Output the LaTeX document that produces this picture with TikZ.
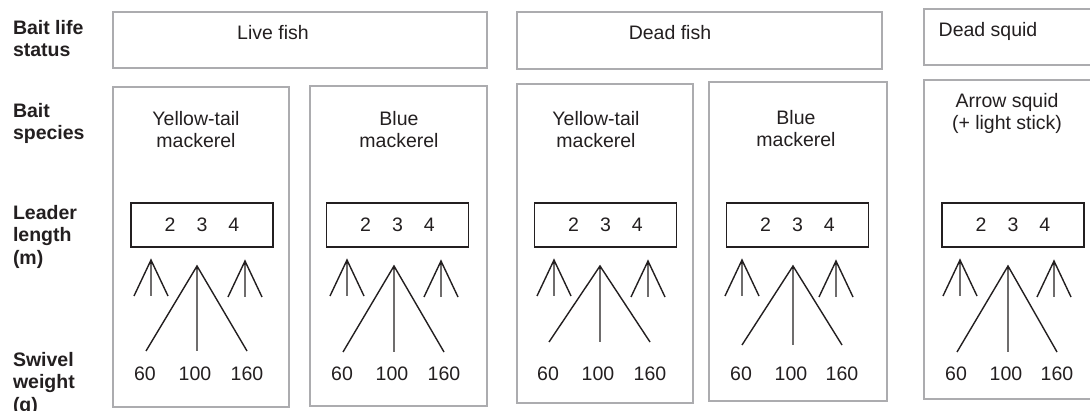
\documentclass[tikz,border=0pt]{standalone}
\usepackage{fontspec}
\setmainfont{Liberation Sans}
\definecolor{frame}{RGB}{172,172,175}
\definecolor{ink}{RGB}{35,31,32}
\tikzset{
  every node/.style={font=\fontsize{19.5}{22.5}\selectfont, text=ink, inner sep=0pt, outer sep=0pt},
  greybox/.style={draw=frame, line width=2.7pt, rectangle, anchor=north west},
  leadbox/.style={draw=ink, line width=1.5pt, rectangle, minimum width=142pt, minimum height=44pt},
  rowlabel/.style={font=\fontsize{19.5}{22.5}\selectfont\bfseries, align=left, anchor=north west},
  species/.style={align=center, anchor=north},
  fan/.style={draw=ink, line width=1.4pt},
}
\begin{document}
\begin{tikzpicture}[x=1pt, y=-1pt]
\useasboundingbox (0,0) rectangle (1090,411);
\clip (0,0) rectangle (1090,411);
\fill[white] (0,0) rectangle (1090,411);

% row labels
\node[rowlabel] (lblstatus)  at (13,20)  {Bait life\\status};
\node[rowlabel] (lblspecies) at (13,103) {Bait\\species};
\node[rowlabel] (lbllength)  at (13,205) {Leader\\length\\(m)};
\node[rowlabel] (lblweight)  at (13,352) {Swivel\\weight\\(g)};

% bait life status
\node[greybox, minimum width=374pt, minimum height=56pt] (live)  at (113,12) {};
\node[greybox, minimum width=365pt, minimum height=57pt] (dead)  at (517,12) {};
\node[greybox, minimum width=190pt, minimum height=56pt] (squid) at (924,9) {};
\node[anchor=base] (livetxt)  at (273,40) {Live fish};
\node[anchor=base] (deadtxt)  at (670,40) {Dead fish};
\node[anchor=base] (squidtxt) at (988,37) {Dead squid};

% bait species
\node[greybox, minimum width=176pt, minimum height=320pt] (sp1) at (113,87) {};
\node[greybox, minimum width=177pt, minimum height=320pt] (sp2) at (310,86) {};
\node[greybox, minimum width=176pt, minimum height=319pt] (sp3) at (517,84) {};
\node[greybox, minimum width=178pt, minimum height=319pt] (sp4) at (709,82) {};
\node[greybox, minimum width=190pt, minimum height=319pt] (sp5) at (924,80) {};
\node[species] (sp1txt) at (196,111)  {Yellow-tail\\mackerel};
\node[species] (sp2txt) at (399,111)  {Blue\\mackerel};
\node[species] (sp3txt) at (596,111)  {Yellow-tail\\mackerel};
\node[species] (sp4txt) at (796,110)  {Blue\\mackerel};
\node[species] (sp5txt) at (1007,93)  {Arrow squid\\(+ light stick)};

% leader lengths and swivel weights, one column per species
\foreach \i/\cx/\la/\ma/\ra/\ey/\ea/\eb in {
    1/202/151/197/245/351/146/247,
    2/397.5/347/394/441/352/343/444,
    3/605.5/554/600/648/342/549/650,
    4/797.5/742/793/836/345/742/842,
    5/1013/960/1008/1054/352/957/1057}{
  \node[leadbox] (len\i) at (\cx,225) {2\hspace{21pt}3\hspace{21pt}4};
  % short fan under length 2
  \coordinate (fl\i)  at (\la,260);
  \coordinate (fla\i) at (\la-17,296);
  \coordinate (flb\i) at (\la,296);
  \coordinate (flc\i) at (\la+17,296);
  \draw[fan] (fla\i) -- (fl\i) -- (flc\i) (fl\i) -- (flb\i);
  % short fan under length 4
  \coordinate (fr\i)  at (\ra,261);
  \coordinate (fra\i) at (\ra-17,297);
  \coordinate (frb\i) at (\ra,297);
  \coordinate (frc\i) at (\ra+17,297);
  \draw[fan] (fra\i) -- (fr\i) -- (frc\i) (fr\i) -- (frb\i);
  % long fan under length 3, down to the weights
  \coordinate (fm\i)  at (\ma,266);
  \coordinate (fma\i) at (\ea,\ey);
  \coordinate (fmb\i) at (\ma,\ey);
  \coordinate (fmc\i) at (\eb,\ey);
  \draw[fan] (fma\i) -- (fm\i) -- (fmc\i) (fm\i) -- (fmb\i);
  \node[anchor=base] (wa\i) at (\ea-1,381) {60};
  \node[anchor=base] (wb\i) at (\ma-2,381) {100};
  \node[anchor=base] (wc\i) at (\eb,381)   {160};
}
\end{tikzpicture}
\end{document}
